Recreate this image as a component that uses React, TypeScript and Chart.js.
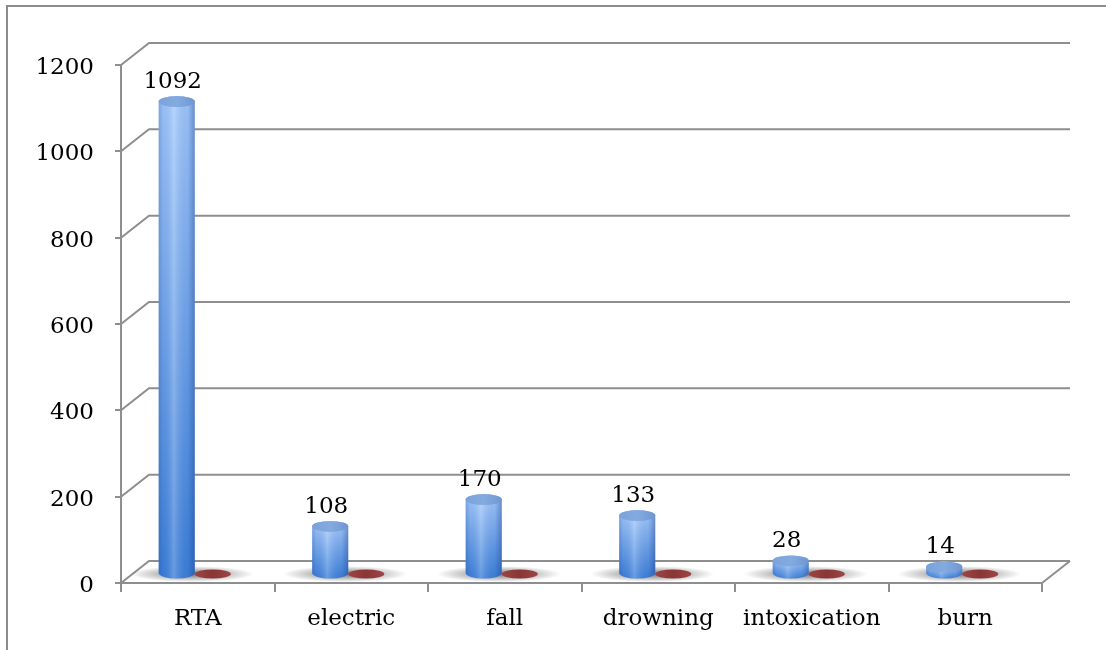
import React, { useEffect, useRef } from "react";
import { Chart, registerables } from "chart.js";

Chart.register(...registerables);

const categories = ["RTA", "electric", "fall", "drowning", "intoxication", "burn"];
const seriesA = [1092, 108, 170, 133, 28, 14];
const seriesB = [0, 0, 0, 0, 0, 0];
const yMin = 0;
const yMax = 1200;
const yStep = 200;

const FONT = "'DejaVu Serif', 'Liberation Serif', serif";
const FONT_SIZE = 23;
const DX = 28;
const DY = -22;
const SHIFT = -3;
const BASE_OFF = -10;
const GRID = "#8e8e8e";

const frame3d = {
  id: "frame3d",
  beforeDatasetsDraw(chart: any) {
    const { ctx, chartArea, scales } = chart;
    const { left, right, bottom } = chartArea;
    const y = scales.y;
    const x = scales.x;
    ctx.save();
    // outer border
    ctx.strokeStyle = "#8c8c8c";
    ctx.lineWidth = 2;
    ctx.beginPath();
    ctx.moveTo(7, chart.height);
    ctx.lineTo(7, 6);
    ctx.lineTo(chart.width, 6);
    ctx.stroke();
    // back wall gridlines with depth slants
    ctx.strokeStyle = GRID;
    ctx.lineWidth = 2;
    ctx.beginPath();
    y.ticks.forEach((t: any) => {
      const py = y.getPixelForValue(t.value);
      ctx.moveTo(left, py);
      ctx.lineTo(left + DX, py + DY);
      ctx.lineTo(right + DX, py + DY);
    });
    ctx.moveTo(right, bottom);
    ctx.lineTo(right + DX, bottom + DY);
    ctx.stroke();
    // floor shadows
    const baseY = y.getPixelForValue(0) + BASE_OFF;
    categories.forEach((_, i) => {
      const cx = x.getPixelForValue(i) + SHIFT - 3;
      const rx = 62;
      const ry = 8;
      ctx.save();
      ctx.translate(cx, baseY + 1);
      ctx.scale(1, ry / rx);
      const g = ctx.createRadialGradient(0, 0, 0, 0, 0, rx);
      g.addColorStop(0, "rgba(0,0,0,0.55)");
      g.addColorStop(0.45, "rgba(0,0,0,0.3)");
      g.addColorStop(1, "rgba(0,0,0,0)");
      ctx.fillStyle = g;
      ctx.beginPath();
      ctx.arc(0, 0, rx, 0, Math.PI * 2);
      ctx.fill();
      ctx.restore();
    });
    ctx.restore();
  },
  afterDatasetsDraw(chart: any) {
    const { ctx, scales } = chart;
    const y = scales.y;
    const baseY = y.getPixelForValue(0) + BASE_OFF;
    ctx.save();
    // red flat series
    const metaB = chart.getDatasetMeta(1);
    metaB.data.forEach((el: any) => {
      const cx = el.x + SHIFT;
      const rx = el.width / 2;
      const g = ctx.createLinearGradient(cx - rx, 0, cx + rx, 0);
      g.addColorStop(0, "#9c4444");
      g.addColorStop(0.5, "#8a3635");
      g.addColorStop(1, "#9c4646");
      ctx.fillStyle = g;
      ctx.beginPath();
      ctx.ellipse(cx, baseY + 1, rx, 4.5, 0, 0, Math.PI * 2);
      ctx.fill();
    });
    // blue cylinders
    const metaA = chart.getDatasetMeta(0);
    metaA.data.forEach((el: any, i: number) => {
      const cx = el.x + SHIFT;
      const rx = el.width / 2;
      const ry = 5.5;
      const topY = y.getPixelForValue(seriesA[i]) + BASE_OFF;
      // body
      ctx.beginPath();
      ctx.moveTo(cx - rx, topY);
      ctx.lineTo(cx - rx, baseY);
      ctx.ellipse(cx, baseY, rx, ry, 0, Math.PI, 0, true);
      ctx.lineTo(cx + rx, topY);
      ctx.ellipse(cx, topY, rx, ry, 0, 0, Math.PI, true);
      ctx.closePath();
      const gv = ctx.createLinearGradient(0, topY, 0, baseY + ry);
      gv.addColorStop(0, "#a3c9fb");
      gv.addColorStop(1, "#3c7fd8");
      ctx.fillStyle = gv;
      ctx.fill();
      const gh = ctx.createLinearGradient(cx - rx, 0, cx + rx, 0);
      gh.addColorStop(0, "rgba(20,60,150,0.28)");
      gh.addColorStop(0.12, "rgba(20,60,150,0.08)");
      gh.addColorStop(0.42, "rgba(255,255,255,0.22)");
      gh.addColorStop(0.8, "rgba(20,60,150,0.08)");
      gh.addColorStop(1, "rgba(15,45,120,0.38)");
      ctx.fillStyle = gh;
      ctx.fill();
      // top cap
      ctx.beginPath();
      ctx.ellipse(cx, topY, rx, ry, 0, 0, Math.PI * 2);
      const gt = ctx.createLinearGradient(cx - rx, 0, cx + rx, 0);
      gt.addColorStop(0, "#7aa2db");
      gt.addColorStop(0.5, "#84abe0");
      gt.addColorStop(1, "#6f96d0");
      ctx.fillStyle = gt;
      ctx.fill();
      // label
      ctx.fillStyle = "#000";
      ctx.font = `${FONT_SIZE}px ${FONT}`;
      ctx.textAlign = "center";
      ctx.textBaseline = "alphabetic";
      ctx.fillText(String(seriesA[i]), cx - 4, topY - ry - 8);
    });
    ctx.restore();
  },
};

export default function App() {
  const ref = useRef<HTMLCanvasElement | null>(null);
  useEffect(() => {
    document.body.style.margin = "0";
    const canvas = ref.current;
    if (!canvas) return;
    const chart = new Chart(canvas, {
      type: "bar",
      data: {
        labels: categories,
        datasets: [
          { label: "A", data: seriesA, backgroundColor: "rgba(0,0,0,0)", borderWidth: 0 },
          { label: "B", data: seriesB, backgroundColor: "rgba(0,0,0,0)", borderWidth: 0 },
        ],
      },
      options: {
        animation: false,
        responsive: false,
        maintainAspectRatio: false,
        layout: { padding: { left: 0, right: 64, top: 65, bottom: 0 } },
        datasets: { bar: { barPercentage: 1, categoryPercentage: 0.47 } },
        plugins: { legend: { display: false }, tooltip: { enabled: false }, title: { display: false } },
        scales: {
          x: {
            afterFit: (s: any) => { s.height = 67; },
            grid: { display: true, drawOnChartArea: false, drawTicks: true, tickLength: 9, color: GRID, lineWidth: 2, offset: true },
            border: { display: true, color: GRID, width: 2 },
            ticks: { color: "#000", font: { family: FONT, size: FONT_SIZE }, padding: 13, maxRotation: 0 },
          },
          y: {
            min: yMin,
            max: yMax,
            afterFit: (s: any) => { s.width = 121; },
            grid: { display: true, drawOnChartArea: false, drawTicks: true, tickLength: 6, color: GRID, lineWidth: 2 },
            border: { display: true, color: GRID, width: 2 },
            ticks: {
              stepSize: yStep,
              color: "#000",
              font: { family: FONT, size: FONT_SIZE },
              padding: 21,
              labelOffset: 3,
              callback: (v: any) => String(v),
            },
          },
        },
      },
      plugins: [frame3d],
    });
    return () => chart.destroy();
  }, []);
  return (
    <div style={{ position: "absolute", left: 0, top: 0, width: 1106, height: 650 }}>
      <canvas ref={ref} width={1106} height={650} style={{ display: "block" }} />
    </div>
  );
}
